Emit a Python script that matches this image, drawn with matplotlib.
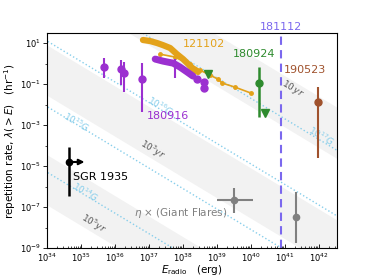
import numpy as np
import matplotlib
matplotlib.use("Agg")
import matplotlib.pyplot as plt
from matplotlib.ticker import LogLocator, NullFormatter

# ---- data (log10 values) ----
# 121102: dense cumulative curve and a thinner second sample
frb121102_cdf_logE = [36.82, 37.03, 37.24, 37.41, 37.62, 37.82, 38.00, 38.15, 38.29, 38.44]
frb121102_cdf_logR = [1.15, 1.10, 1.00, 0.90, 0.76, 0.46, 0.22, -0.02, -0.27, -0.41]
frb121102_b_logE = [37.32, 37.76, 38.21, 38.50, 38.79, 39.03, 39.15, 39.53, 40.00]
frb121102_b_logR = [0.46, 0.32, -0.02, -0.32, -0.56, -0.76, -0.95, -1.15, -1.44]

# 180916
frb180916_cdf_logE = [37.18, 37.41, 37.71, 37.91, 38.12, 38.29]
frb180916_cdf_logR = [0.22, 0.12, 0.02, -0.17, -0.41, -0.61]
frb180916_dots_logE = [38.41, 38.62, 38.62]
frb180916_dots_logR = [-0.76, -0.90, -1.20]
frb180916_err_logE = [35.68, 36.18, 36.26, 36.79, 37.76]
frb180916_err_logR = [-0.17, -0.27, -0.46, -0.76, -0.22]
frb180916_err_hi = [0.27, 0.17, 0.07, 0.02, 0.22]
frb180916_err_lo = [-0.71, -1.05, -1.39, -2.37, -0.71]

# 180924
frb180924_logE, frb180924_logR = 40.24, -0.95
frb180924_hi, frb180924_lo = -0.17, -2.61
frb180924_ul_logE = [38.74, 40.41]
frb180924_ul_logR = [-0.51, -2.41]

# 190523
frb190523_logE, frb190523_logR = 41.97, -1.88
frb190523_hi, frb190523_lo = -1.15, -4.6

# 181112 (energy only)
frb181112_logE = 40.88

# SGR 1935
sgr_logE, sgr_logR = 34.65, -4.80
sgr_hi, sgr_lo = -4.07, -6.46
sgr_arrow_logE = 35.10

# giant flares (scaled by eta)
gf_logE = [39.50, 41.32]
gf_logR = [-6.66, -7.49]
gf_hi = [-6.07, -6.27]
gf_lo = [-7.29, -8.76]
gf_xlo = [39.00, None]
gf_xhi = [40.06, None]

# model curves: log10(lambda * E)
bfield_labels = ["$10^{17}G$", "$10^{16}G$", "$10^{15}G$", "$10^{14}G$"]
bfield_norm = [38.3, 35.1, 31.9, 28.7]
age_labels = ["$10\\,yr$", "$10^3yr$", "$10^5yr$"]
age_band_lo = [37.9, 32.45, 27.1]
age_band_hi = [40.4, 34.9, 29.55]

orange = "#e3a21a"
purple = "#9b30d0"
green = "#2e8b2e"
brown = "#a0522d"
slate = "#7b68ee"
bblue = "#87ceeb"

fig = plt.figure(figsize=(3.74, 2.80), dpi=100)
ax = fig.add_axes([0.126, 0.114, 0.775, 0.768])
ax.set_xscale("log")
ax.set_yscale("log")
xlim = (1e34, 10 ** 42.53)
ylim = (1e-9, 10 ** 1.49)


def at(px, py):
    # pixel position in the 374x280 picture -> axes fraction
    return ((px - 47) / 290.0, (248 - py) / 215.0)


E = np.logspace(33, 44, 50)
for lo, hi in zip(age_band_lo, age_band_hi):
    ax.fill_between(E, 10 ** lo / E, 10 ** hi / E, color="#f2f2f2", lw=0, zorder=0)
for k in bfield_norm:
    ax.plot(E, 10 ** k / E, ls=":", color=bblue, lw=1.0, zorder=1)

# B-field and age labels (rotated along slope)
ang = -31
bpos = [(321, 136), (160, 106), (76, 122), (85, 192)]
for lab, p in zip(bfield_labels, bpos):
    ax.text(*at(*p), lab, transform=ax.transAxes, color=bblue, fontsize=6.5,
            rotation=ang, ha="center", va="center", rotation_mode="anchor", zorder=2)
apos = [(293, 89), (152, 150), (93, 224)]
for lab, p in zip(age_labels, apos):
    ax.text(*at(*p), lab, transform=ax.transAxes, color="#555555", fontsize=6.5,
            rotation=ang, ha="center", va="center", rotation_mode="anchor", zorder=2)

# 121102
ax.plot(10 ** np.array(frb121102_cdf_logE), 10 ** np.array(frb121102_cdf_logR),
        color=orange, lw=4.5, solid_capstyle="round", zorder=3)
ax.plot(10 ** np.array(frb121102_b_logE), 10 ** np.array(frb121102_b_logR),
        color=orange, lw=1.2, marker="o", ms=2.5, zorder=3)

# 180916
ax.plot(10 ** np.array(frb180916_cdf_logE), 10 ** np.array(frb180916_cdf_logR),
        color=purple, lw=5, solid_capstyle="round", zorder=4)
ax.plot(10 ** np.array(frb180916_dots_logE), 10 ** np.array(frb180916_dots_logR),
        "o", color=purple, ms=5, zorder=4)
yv = 10 ** np.array(frb180916_err_logR)
yerr = [yv - 10 ** np.array(frb180916_err_lo), 10 ** np.array(frb180916_err_hi) - yv]
ax.errorbar(10 ** np.array(frb180916_err_logE[:4]), yv[:4],
            yerr=[yerr[0][:4], yerr[1][:4]], fmt="o", color=purple, ms=5, lw=1.5, zorder=4)
ax.errorbar(10 ** np.array(frb180916_err_logE[4:]), yv[4:],
            yerr=[yerr[0][4:], yerr[1][4:]], fmt="none", color=purple, lw=1.5, zorder=4)

# 180924
y0 = 10 ** frb180924_logR
ax.errorbar([10 ** frb180924_logE], [y0],
            yerr=[[y0 - 10 ** frb180924_lo], [10 ** frb180924_hi - y0]],
            fmt="o", color=green, ms=5, lw=1.8, zorder=5)
ax.plot(10 ** np.array(frb180924_ul_logE), 10 ** np.array(frb180924_ul_logR),
        "v", color=green, ms=6, zorder=5)

# 190523
y0 = 10 ** frb190523_logR
ax.errorbar([10 ** frb190523_logE], [y0],
            yerr=[[y0 - 10 ** frb190523_lo], [10 ** frb190523_hi - y0]],
            fmt="o", color=brown, ms=5, lw=1.5, zorder=5)

# 181112
ax.axvline(10 ** frb181112_logE, color=slate, ls="--", lw=1.5, dashes=(4, 2.5), zorder=2)

# SGR 1935
y0 = 10 ** sgr_logR
ax.errorbar([10 ** sgr_logE], [y0], yerr=[[y0 - 10 ** sgr_lo], [10 ** sgr_hi - y0]],
            fmt="o", color="black", ms=4.5, lw=1.8, zorder=6)
ax.annotate("", xy=(10 ** sgr_arrow_logE, y0), xytext=(10 ** sgr_logE, y0),
            arrowprops=dict(arrowstyle="-|>", color="black", lw=1.5,
                            mutation_scale=8, shrinkA=0, shrinkB=0), zorder=6)

# giant flares
for i in range(len(gf_logE)):
    y0 = 10 ** gf_logR[i]
    x0 = 10 ** gf_logE[i]
    xe = None
    if gf_xlo[i] is not None:
        xe = [[x0 - 10 ** gf_xlo[i]], [10 ** gf_xhi[i] - x0]]
    ax.errorbar([x0], [y0], yerr=[[y0 - 10 ** gf_lo[i]], [10 ** gf_hi[i] - y0]],
                xerr=xe, fmt="o", color="gray", ms=4.5, lw=1.5, zorder=5)

# event labels
labels = [("121102", orange, (204, 44)), ("180916", purple, (168, 116)),
          ("180924", green, (254, 54)), ("190523", brown, (305, 70)),
          ("SGR 1935", "black", (100, 177)), ("181112", slate, (281, 27))]
for txt, col, p in labels:
    ax.text(*at(*p), txt, transform=ax.transAxes, color=col, fontsize=8,
            ha="center", va="center", clip_on=False, zorder=7)
ax.text(*at(181, 213), "$\\eta$ \u00d7 (Giant Flares)", transform=ax.transAxes,
        color="gray", fontsize=7.5, ha="center", va="center", zorder=7)

ax.set_xlim(*xlim)
ax.set_ylim(*ylim)
ax.set_xticks([10.0 ** k for k in range(34, 43)])
ax.xaxis.set_minor_locator(LogLocator(base=10, subs=np.arange(2, 10), numticks=20))
ax.xaxis.set_minor_formatter(NullFormatter())
ax.set_yticks([10.0 ** k for k in range(-9, 2, 2)])
ax.yaxis.set_minor_locator(LogLocator(base=10, subs=[1.0], numticks=20))
ax.yaxis.set_minor_formatter(NullFormatter())
ax.tick_params(labelsize=6, length=3, width=0.6, pad=1.5)
ax.tick_params(axis="x", which="both", direction="in", pad=2.5)
ax.tick_params(which="minor", length=1.5, width=0.5)
ax.set_xlabel("$E_{\\rm radio}$   (erg)", fontsize=7.5)
ax.set_ylabel("repetition rate, $\\lambda(>E)$   (hr$^{-1}$)", fontsize=7.5)
ax.xaxis.set_label_coords(0.5, -0.07)
ax.yaxis.set_label_coords(-0.1, 0.5)

fig.savefig("out.png", dpi=100)
